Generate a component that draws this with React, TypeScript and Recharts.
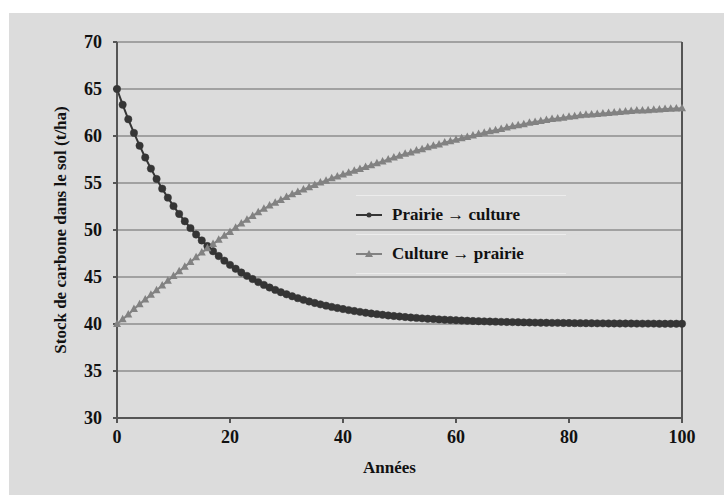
import { CartesianGrid, Line, LineChart, ReferenceLine, XAxis, YAxis } from 'recharts'

// stock de carbone (t/ha), one value per year, years 0..100
const PRAIRIE_CULTURE = [
  65.0, 63.33, 61.78, 60.33, 58.97, 57.71, 56.53, 55.43, 54.4, 53.44,
  52.54, 51.71, 50.93, 50.2, 49.52, 48.89, 48.29, 47.74, 47.23, 46.74,
  46.29, 45.88, 45.48, 45.12, 44.78, 44.46, 44.16, 43.88, 43.63, 43.38,
  43.16, 42.95, 42.75, 42.57, 42.4, 42.24, 42.09, 41.95, 41.82, 41.7,
  41.59, 41.48, 41.38, 41.29, 41.2, 41.12, 41.05, 40.98, 40.91, 40.85,
  40.8, 40.74, 40.69, 40.65, 40.6, 40.56, 40.53, 40.49, 40.46, 40.43,
  40.4, 40.37, 40.35, 40.32, 40.3, 40.28, 40.26, 40.25, 40.23, 40.21,
  40.2, 40.19, 40.17, 40.16, 40.15, 40.14, 40.13, 40.12, 40.12, 40.11,
  40.1, 40.09, 40.09, 40.08, 40.08, 40.07, 40.07, 40.06, 40.06, 40.05,
  40.05, 40.05, 40.04, 40.04, 40.04, 40.04, 40.03, 40.03, 40.03, 40.03,
  40.03,
]

const CULTURE_PRAIRIE = [
  40.0, 40.5, 41.0, 41.6, 42.1, 42.6, 43.1, 43.6, 44.1, 44.6,
  45.1, 45.6, 46.1, 46.6, 47.1, 47.6, 48.05, 48.5, 48.95, 49.4,
  49.8, 50.25, 50.7, 51.1, 51.5, 51.9, 52.25, 52.6, 52.9, 53.2,
  53.5, 53.8, 54.05, 54.3, 54.55, 54.8, 55.05, 55.25, 55.5, 55.7,
  55.9, 56.1, 56.3, 56.5, 56.7, 56.9, 57.1, 57.3, 57.5, 57.7,
  57.9, 58.1, 58.25, 58.45, 58.6, 58.8, 58.95, 59.1, 59.3, 59.45,
  59.6, 59.75, 59.9, 60.05, 60.2, 60.35, 60.5, 60.6, 60.75, 60.9,
  61.05, 61.15, 61.25, 61.4, 61.5, 61.6, 61.7, 61.8, 61.85, 61.95,
  62.05, 62.1, 62.2, 62.25, 62.3, 62.35, 62.4, 62.45, 62.5, 62.55,
  62.6, 62.65, 62.7, 62.72, 62.75, 62.8, 62.83, 62.86, 62.9, 62.93,
  62.95,
]

const X_TICKS = [0, 20, 40, 60, 80, 100]
const Y_TICKS = [30, 35, 40, 45, 50, 55, 60, 65, 70]
const SERIES_NAMES = ['Prairie \u2192 culture', 'Culture \u2192 prairie']

const data = PRAIRIE_CULTURE.map((v, i) => ({ year: i, pc: v, cp: CULTURE_PRAIRIE[i] }))

const FONT = 'Liberation Serif, Times New Roman, serif'
const DARK = '#353535'
const LIGHT = '#828282'
const TXT = { fontFamily: FONT, fontWeight: 'bold', fill: '#111' }

const Triangle = (p: any) => {
  const { cx, cy } = p
  if (cx == null || cy == null) return null
  return <path d={`M${cx},${cy - 4.5} L${cx + 4},${cy + 3} L${cx - 4},${cy + 3} Z`} fill={LIGHT} />
}

function LegendBox() {
  const row = (label: string, dark: boolean) => (
    <div style={{ display: 'flex', alignItems: 'center', height: 38, borderTop: '1px solid #ececec' }}>
      <svg width={32} height={12} style={{ marginRight: 4 }}>
        <line x1={0} y1={6} x2={26} y2={6} stroke={dark ? DARK : LIGHT} strokeWidth={2} />
        {dark
          ? <circle cx={13} cy={6} r={2.5} fill={DARK} />
          : <path d="M13,2 L17,9 L9,9 Z" fill={LIGHT} />}
      </svg>
      <span style={{ fontFamily: FONT, fontWeight: 'bold', fontSize: 17, color: '#111' }}>{label}</span>
    </div>
  )
  return (
    <div style={{ position: 'absolute', left: 347, top: 182, width: 210, borderBottom: '1px solid #ececec' }}>
      {row(SERIES_NAMES[0], true)}
      {row(SERIES_NAMES[1], false)}
    </div>
  )
}

export default function App() {
  return (
    <div style={{ position: 'absolute', left: 9, top: 13, width: 715, height: 482, background: '#dcdcdc' }}>
      <LineChart width={715} height={482} data={data} margin={{ top: 29, right: 42, left: 0, bottom: 0 }}>
        <CartesianGrid horizontal vertical={false} stroke="#8e8e8e" strokeWidth={1.5} />
        <XAxis
          dataKey="year" type="number" domain={[0, 100]} ticks={X_TICKS} height={77}
          stroke="#555" strokeWidth={2} tickSize={5} tickMargin={7}
          tick={{ ...TXT, fontSize: 18 }}
          label={{ value: 'Années', position: 'insideBottom', offset: 22, dx: -10, ...TXT, fontSize: 17 }}
        />
        <YAxis
          type="number" domain={[30, 70]} ticks={Y_TICKS} width={108} interval={0}
          stroke="#555" strokeWidth={2} tickSize={4} tickMargin={11}
          tick={{ ...TXT, fontSize: 18 }}
          label={{ value: 'Stock de carbone dans le sol (t/ha)', angle: -90, position: 'insideLeft', offset: 51, style: { textAnchor: 'middle' }, ...TXT, fontSize: 17 }}
        />
        <ReferenceLine x={100} stroke="#555" strokeWidth={2} />
        <Line dataKey="pc" name={SERIES_NAMES[0]} stroke={DARK} strokeWidth={2} isAnimationActive={false}
          dot={{ r: 3.7, fill: DARK, stroke: DARK, strokeWidth: 0.5 }} />
        <Line dataKey="cp" name={SERIES_NAMES[1]} stroke={LIGHT} strokeWidth={2} isAnimationActive={false}
          dot={<Triangle />} />
      </LineChart>
      <LegendBox />
    </div>
  )
}
